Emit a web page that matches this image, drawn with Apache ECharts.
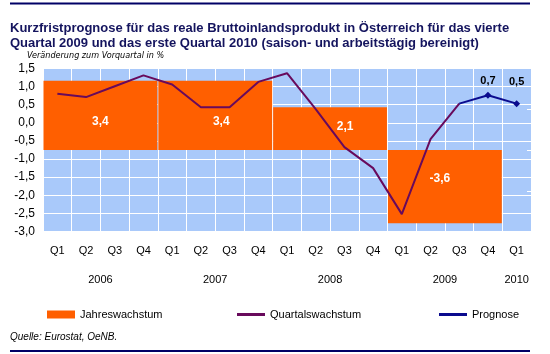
<!DOCTYPE html>
<html>
<head>
<meta charset="utf-8">
<script src="https://cdn.jsdelivr.net/npm/echarts@6/dist/echarts.min.js"></script>
<style>
html,body{margin:0;padding:0;background:#fff;}
#c{width:550px;height:354px;}
</style>
</head>
<body>
<div id="c"></div>
<script>
// ---- data ----
var quarters = ['Q1','Q2','Q3','Q4','Q1','Q2','Q3','Q4','Q1','Q2','Q3','Q4','Q1','Q2','Q3','Q4','Q1'];
var years = ['2006','2007','2008','2009','2010'];
var yearFirstQuarter = [0, 4, 8, 12, 16];
var yearLastQuarter  = [3, 7, 11, 15, 16];
var quartalswachstum = [0.80, 0.71, 1.01, 1.31, 1.06, 0.43, 0.43, 1.13, 1.37, 0.38, -0.67, -1.25, -2.52, -0.45, 0.53, null, null];
var prognose = [null, null, null, null, null, null, null, null, null, null, null, null, null, null, 0.53, 0.76, 0.53];
var prognoseLabels = ['', '', '', '', '', '', '', '', '', '', '', '', '', '', '', '0,7', '0,5'];
var jahresYears = ['2006','2007','2008','2009'];
var jahresStart = [0, 4, 8, 12];
var jahresEnd = [3, 7, 11, 15];
var jahreswachstum = [3.4, 3.4, 2.1, -3.6];
var yTicks = {min: -3.0, max: 1.5, interval: 0.5};

// styling (label placement inside the yearly boxes, in px)
var boxLabelOffsets = [[0, 6], [6, 6], [15, -2], [-5, -8]];

var ORANGE = '#ff5f00', PURPLE = '#680a5c', BLUE = '#0b0b8e', NAVY = '#14145e';
var FONT = 'Liberation Sans';
var NARROW = '"Liberation Sans Narrow", "DejaVu Sans Condensed", "Liberation Sans", sans-serif';

var chart = echarts.init(document.getElementById('c'), null, {renderer: 'canvas'});

var boxData = jahreswachstum.map(function (v, i) { return [jahresStart[i], jahresEnd[i], v]; });

var progData = prognose.map(function (v, i) {
  if (v === null) return null;
  var item = {value: v};
  if (prognoseLabels[i] === '') {
    item.symbol = 'none';
  } else {
    item.label = {show: true, position: 'top', formatter: prognoseLabels[i],
      distance: (i === 15 ? 5 : 13), color: '#000', fontWeight: 'bold', fontSize: 11, fontFamily: FONT};
  }
  return item;
});

var option = {
  animation: false,
  backgroundColor: '#fff',
  title: [
    {text: 'Kurzfristprognose für das reale Bruttoinlandsprodukt in Österreich für das vierte\nQuartal 2009 und das erste Quartal 2010 (saison- und arbeitstägig bereinigt)',
     left: 10, top: 21, padding: 0,
     textStyle: {color: NAVY, fontSize: 13, fontWeight: 'bold', fontFamily: FONT, lineHeight: 15}},
    {text: 'Veränderung zum Vorquartal in %', left: 27, top: 51, padding: 0,
     textStyle: {color: '#000', fontSize: 9, fontStyle: 'italic', fontWeight: 'normal', fontFamily: NARROW}},
    {text: 'Quelle: Eurostat, OeNB.', left: 10, top: 332, padding: 0,
     textStyle: {color: '#000', fontSize: 10, fontStyle: 'italic', fontWeight: 'normal', fontFamily: FONT}}
  ],
  legend: [
    {data: [{name: 'Jahreswachstum', icon: 'rect', itemStyle: {color: ORANGE}}], left: 47, top: 309,
     itemWidth: 28, itemHeight: 8, padding: 0, textStyle: {color: '#000', fontSize: 11, fontFamily: FONT}},
    {data: [{name: 'Quartalswachstum', icon: 'rect', itemStyle: {color: PURPLE}}], left: 237, top: 309,
     itemWidth: 28, itemHeight: 3, padding: 0, textStyle: {color: '#000', fontSize: 11, fontFamily: FONT}},
    {data: [{name: 'Prognose', icon: 'rect', itemStyle: {color: BLUE}}], left: 439, top: 309,
     itemWidth: 28, itemHeight: 3, padding: 0, textStyle: {color: '#000', fontSize: 11, fontFamily: FONT}}
  ],
  grid: {left: 43, right: 19, top: 68.5, bottom: 122.5, show: true, backgroundColor: '#a9c9fa', borderWidth: 0},
  xAxis: [{
    type: 'category', data: quarters, boundaryGap: true,
    axisLine: {show: false}, axisTick: {show: false},
    axisLabel: {interval: 0, color: '#000', fontSize: 11, fontFamily: FONT, margin: 14},
    splitLine: {show: true, interval: 0, lineStyle: {color: '#ffffff', width: 1}}
  }],
  yAxis: [{
    type: 'value', min: yTicks.min, max: yTicks.max, interval: yTicks.interval,
    axisLine: {show: false}, axisTick: {show: false},
    axisLabel: {color: '#000', fontSize: 12, fontFamily: FONT, margin: 8,
      formatter: function (v) { return v.toFixed(1).replace('.', ','); }},
    splitLine: {show: true, lineStyle: {color: '#ffffff', width: 1}}
  }, {
    type: 'value', min: -4, max: 4, interval: 2, position: 'right',
    axisLine: {show: false}, axisLabel: {show: false},
    axisTick: {show: true, inside: true, length: 4, lineStyle: {color: '#ffffff'}},
    splitLine: {show: false}
  }],
  series: [
    {
      name: 'Jahreswachstum', type: 'custom', xAxisIndex: 0, yAxisIndex: 1, z: 1,
      itemStyle: {color: ORANGE},
      data: boxData,
      encode: {x: [0, 1], y: 2},
      renderItem: function (params, api) {
        var s = api.coord([api.value(0), 0]);
        var e = api.coord([api.value(1), api.value(2)]);
        var bw = api.size([1, 0])[0];
        var x0 = s[0] - bw / 2 + 0.5, x1 = e[0] + bw / 2 - 0.5;
        var y0 = Math.min(s[1], e[1]), y1 = Math.max(s[1], e[1]);
        return {
          type: 'rect',
          shape: {x: x0, y: y0, width: x1 - x0, height: y1 - y0},
          style: {fill: ORANGE},
          textContent: {style: {text: String(api.value(2)).replace('.', ','), fill: '#fff',
            font: 'bold 12px "' + FONT + '"'}},
          textConfig: {position: 'inside', offset: boxLabelOffsets[params.dataIndex]}
        };
      }
    },
    {
      name: 'Quartalswachstum', type: 'line', data: quartalswachstum, z: 3,
      symbol: 'none', lineStyle: {color: PURPLE, width: 2}, itemStyle: {color: PURPLE}
    },
    {
      name: 'Prognose', type: 'line', data: progData, z: 4,
      symbol: 'diamond', symbolSize: 7, showAllSymbol: true,
      lineStyle: {color: BLUE, width: 2}, itemStyle: {color: BLUE}
    }
  ]
};
chart.setOption(option);

// year labels centred under each year's quarters, via the axis scale
var g = [
  {type: 'line', shape: {x1: 10, y1: 3.5, x2: 530, y2: 3.5}, style: {stroke: '#000066', lineWidth: 2}},
  {type: 'line', shape: {x1: 10, y1: 351, x2: 530, y2: 351}, style: {stroke: '#000066', lineWidth: 2}}
];
years.forEach(function (y, i) {
  var a = chart.convertToPixel({xAxisIndex: 0}, yearFirstQuarter[i]);
  var b = chart.convertToPixel({xAxisIndex: 0}, yearLastQuarter[i]);
  g.push({type: 'text', x: (a + b) / 2, y: 280,
    style: {text: y, fill: '#000', font: '11px "' + FONT + '"', textAlign: 'center', textVerticalAlign: 'middle'}});
});
chart.setOption({graphic: g});
</script>
</body>
</html>
